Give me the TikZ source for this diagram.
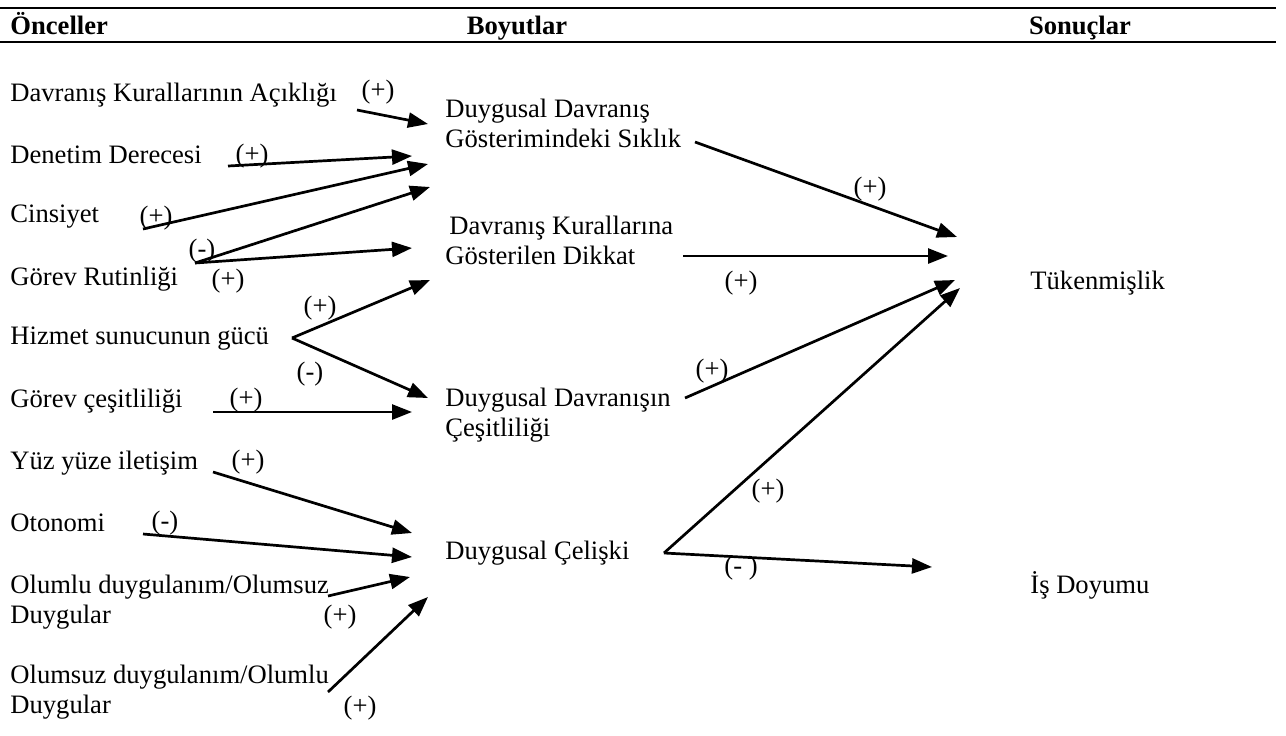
\documentclass[tikz,border=0pt]{standalone}
\usepackage{fontspec}
\setmainfont{Liberation Serif}
\usetikzlibrary{arrows.meta,positioning}

\tikzset{
  every node/.style={font=\fontsize{13.3}{15}\selectfont, inner sep=0pt},
  head/.style={font=\fontsize{13.3}{15}\selectfont\bfseries, anchor=base},
  factor/.style={anchor=west, align=left},
  sign/.style={anchor=center},
  link/.style={line width=1.35pt, -{Triangle[length=10pt,width=7.5pt]}},
}

\begin{document}
\begin{tikzpicture}[x=0.5pt, y=-0.5pt]
  \useasboundingbox (0,0) rectangle (1286,735);

  % header rules
  \coordinate (tl) at (0,8);
  \coordinate (tr) at (1276,8);
  \coordinate (bl) at (0,42);
  \coordinate (br) at (1276,42);
  \draw[line width=0.8pt] (tl) -- (tr);
  \draw[line width=1.4pt] (bl) -- (br);
  \node (honc) [head, anchor=base west] at (10,34) {Önceller};
  \node (hboy) [head] at (517,34) {Boyutlar};
  \node (hson) [head] at (1080,34) {Sonuçlar};

  % antecedents
  \node (kural) [factor] at (10,95) {Davranış Kurallarının Açıklığı};
  \node (denetim) [factor] at (10,155) {Denetim Derecesi};
  \node (cins) [factor] at (10,217) {Cinsiyet};
  \node (rutin) [factor] at (10,279) {Görev Rutinliği};
  \node (guc) [factor] at (10,339) {Hizmet sunucunun gücü};
  \node (cesit) [factor] at (10,401) {Görev çeşitliliği};
  \node (yuz) [factor] at (10,463) {Yüz yüze iletişim};
  \node (oto) [factor] at (10,523) {Otonomi};
  \node (olumlu) [factor] at (10,602) {Olumlu duygulanım/Olumsuz\\Duygular};
  \node (olumsuz) [factor] at (10,692) {Olumsuz duygulanım/Olumlu\\Duygular};

  % dimensions
  \node (siklik) [factor] at (445,123) {Duygusal Davranış\\Gösterimindeki Sıklık};
  \node (dikkat) [factor] at (445,240) {\hspace{2pt}Davranış Kurallarına\\Gösterilen Dikkat};
  \node (davcesit) [factor] at (445,415) {Duygusal Davranışın\\Çeşitliliği};
  \node (celiski) [factor] at (445,553) {Duygusal Çelişki};

  % outcomes
  \node (tuken) [factor] at (1030,283) {Tükenmişlik};
  \node (doyum) [factor] at (1030,585) {İş Doyumu};

  % arrow ends
  \coordinate (kural-o) at (357,110);   \coordinate (siklik-i1) at (428,124);
  \coordinate (denetim-o) at (228,166); \coordinate (siklik-i2) at (412,156);
  \coordinate (cins-o) at (143,229);    \coordinate (siklik-i3) at (428,164);
  \coordinate (rutin-o) at (195,263);   \coordinate (siklik-i4) at (430,187);
                                        \coordinate (dikkat-i1) at (412,248);
  \coordinate (guc-o) at (292,338);     \coordinate (dikkat-i2) at (430,280);
                                        \coordinate (davcesit-i1) at (428,398);
  \coordinate (cesit-o) at (213,412);   \coordinate (davcesit-i2) at (412,412);
  \coordinate (yuz-o) at (213,472);     \coordinate (celiski-i1) at (412,533);
  \coordinate (oto-o) at (143,534);     \coordinate (celiski-i2) at (412,557);
  \coordinate (olumlu-o) at (328,596);  \coordinate (celiski-i3) at (410,577);
  \coordinate (olumsuz-o) at (328,692); \coordinate (celiski-i4) at (428,597);

  \coordinate (siklik-o) at (695,142);  \coordinate (tuken-i1) at (957,237);
  \coordinate (dikkat-o) at (683,256);  \coordinate (tuken-i2) at (948,256);
  \coordinate (davcesit-o) at (685,398); \coordinate (tuken-i3) at (955,280);
  \coordinate (celiski-o) at (664,553); \coordinate (tuken-i4) at (960,288);
                                        \coordinate (doyum-i) at (932,567);

  % links
  \draw[link] (kural-o) -- (siklik-i1);
  \draw[link] (denetim-o) -- (siklik-i2);
  \draw[link] (cins-o) -- (siklik-i3);
  \draw[link] (rutin-o) -- (siklik-i4);
  \draw[link] (rutin-o) -- (dikkat-i1);
  \draw[link] (guc-o) -- (dikkat-i2);
  \draw[link] (guc-o) -- (davcesit-i1);
  \draw[link] (cesit-o) -- (davcesit-i2);
  \draw[link] (yuz-o) -- (celiski-i1);
  \draw[link] (oto-o) -- (celiski-i2);
  \draw[link] (olumlu-o) -- (celiski-i3);
  \draw[link] (olumsuz-o) -- (celiski-i4);
  \draw[link] (siklik-o) -- (tuken-i1);
  \draw[link] (dikkat-o) -- (tuken-i2);
  \draw[link] (davcesit-o) -- (tuken-i3);
  \draw[link] (celiski-o) -- (tuken-i4);
  \draw[link] (celiski-o) -- (doyum-i);

  % signs
  \node (s1) [sign] at (378,92) {(+)};
  \node (s2) [sign] at (252,156) {(+)};
  \node (s3) [sign] at (156,218) {(+)};
  \node (s4) [sign] at (202,251) {(-)};
  \node (s5) [sign] at (228,281) {(+)};
  \node (s6) [sign] at (320,308) {(+)};
  \node (s7) [sign] at (310,374) {(-)};
  \node (s8) [sign] at (246,400) {(+)};
  \node (s9) [sign] at (248,462) {(+)};
  \node (s10) [sign] at (165,523) {(-)};
  \node (s11) [sign] at (340,617) {(+)};
  \node (s12) [sign] at (360,708) {(+)};
  \node (s13) [sign] at (870,189) {(+)};
  \node (s14) [sign] at (741,283) {(+)};
  \node (s15) [sign] at (712,371) {(+)};
  \node (s16) [sign] at (768,491) {(+)};
  \node (s17) [sign] at (741,568) {(- )};
\end{tikzpicture}
\end{document}
